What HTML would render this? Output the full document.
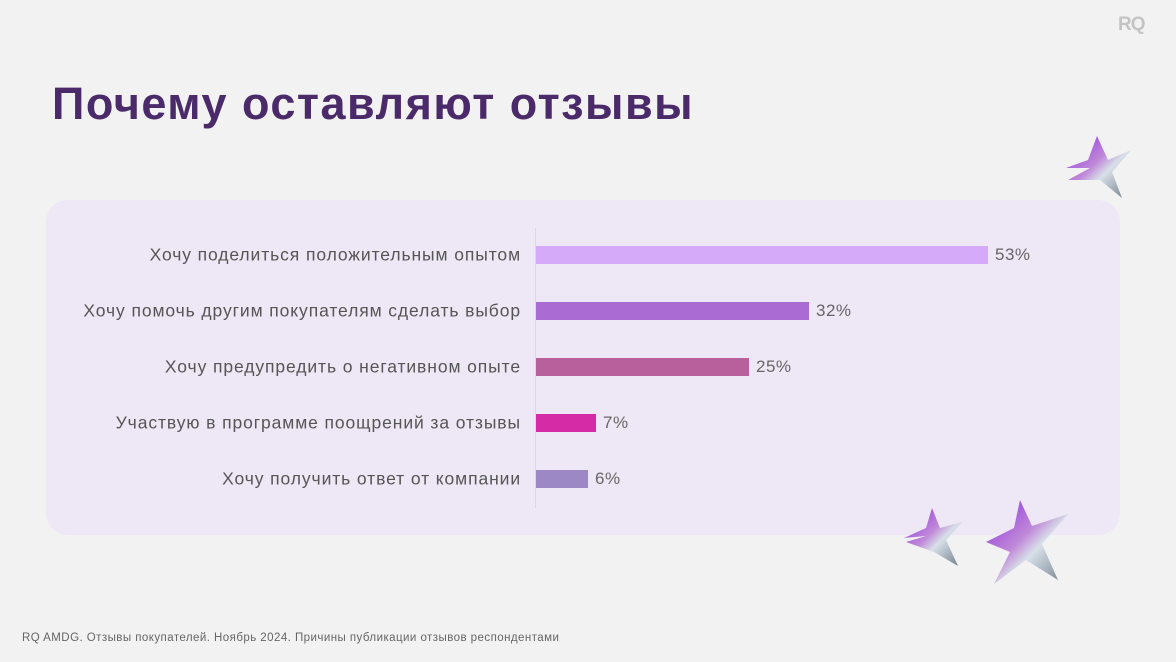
<!DOCTYPE html>
<html><head><meta charset="utf-8"><style>
html,body{margin:0;padding:0}
body{width:1176px;height:662px;background:#f2f2f2;position:relative;overflow:hidden;font-family:"Liberation Sans","DejaVu Sans",sans-serif}
.t{position:absolute;left:52px;top:78px;font-size:45px;font-weight:bold;color:#4b2a6a;letter-spacing:1.5px;white-space:nowrap}
.rq{position:absolute;left:1118px;top:14px;font-size:19px;font-weight:bold;color:#c4c4c4;letter-spacing:-1px}
.panel{position:absolute;left:46px;top:200px;width:1074px;height:335px;border-radius:22px;background:#eee7f6}
.ax{position:absolute;left:535px;top:228px;width:1px;height:280px;background:#ddd5e4}
.lab{position:absolute;right:655px;font-size:17.5px;letter-spacing:0.9px;color:#555;white-space:nowrap;transform:translateY(-50%)}
.bar{position:absolute;left:536px;height:18px;transform:translateY(-50%)}
.v{position:absolute;font-size:17px;letter-spacing:0.5px;color:#666;transform:translateY(-50%)}
.foot{position:absolute;left:22px;top:632px;font-size:11.5px;letter-spacing:0.45px;color:#666;white-space:nowrap}
</style></head><body>
<div class="rq">RQ</div>
<div class="t">Почему оставляют отзывы</div>
<div class="panel"></div>
<div class="ax"></div>

<div class="lab" style="top:255px">Хочу поделиться положительным опытом</div>
<div class="bar" style="top:255px;width:452px;background:#d4aaf9"></div>
<div class="v" style="top:255px;left:995px">53%</div>

<div class="lab" style="top:311px">Хочу помочь другим покупателям сделать выбор</div>
<div class="bar" style="top:311px;width:273px;background:#a86cd2"></div>
<div class="v" style="top:311px;left:816px">32%</div>

<div class="lab" style="top:367px">Хочу предупредить о негативном опыте</div>
<div class="bar" style="top:367px;width:213px;background:#b8609c"></div>
<div class="v" style="top:367px;left:756px">25%</div>

<div class="lab" style="top:423px">Участвую в программе поощрений за отзывы</div>
<div class="bar" style="top:423px;width:60px;background:#d52ba6"></div>
<div class="v" style="top:423px;left:603px">7%</div>

<div class="lab" style="top:479px">Хочу получить ответ от компании</div>
<div class="bar" style="top:479px;width:52px;background:#9b88c4"></div>
<div class="v" style="top:479px;left:595px">6%</div>

<svg width="1176" height="662" style="position:absolute;left:0;top:0">
<defs>
<linearGradient id="g" x1="0" y1="0" x2="1" y2="1">
<stop offset="0" stop-color="#8a2be2"/><stop offset="0.45" stop-color="#c08ad8"/><stop offset="0.6" stop-color="#d8e0e8"/><stop offset="1" stop-color="#6a7a88"/>
</linearGradient>
</defs>
<g fill="url(#g)">
<polygon points="1097,136 1108,160 1131,150 1112,172 1122,198 1100,180 1068,180 1090,168 1066,168 1088,160"/>
<polygon points="932,508 940,528 962,522 946,540 958,566 934,552 906,542 926,536 904,538 926,528"/>
<polygon points="1020,500 1032,526 1068,514 1042,544 1058,580 1026,560 994,584 1010,552 986,542 1014,528"/>
</g>
</svg>
<div class="foot">RQ AMDG. Отзывы покупателей. Ноябрь 2024. Причины публикации отзывов респондентами</div>
</body></html>
